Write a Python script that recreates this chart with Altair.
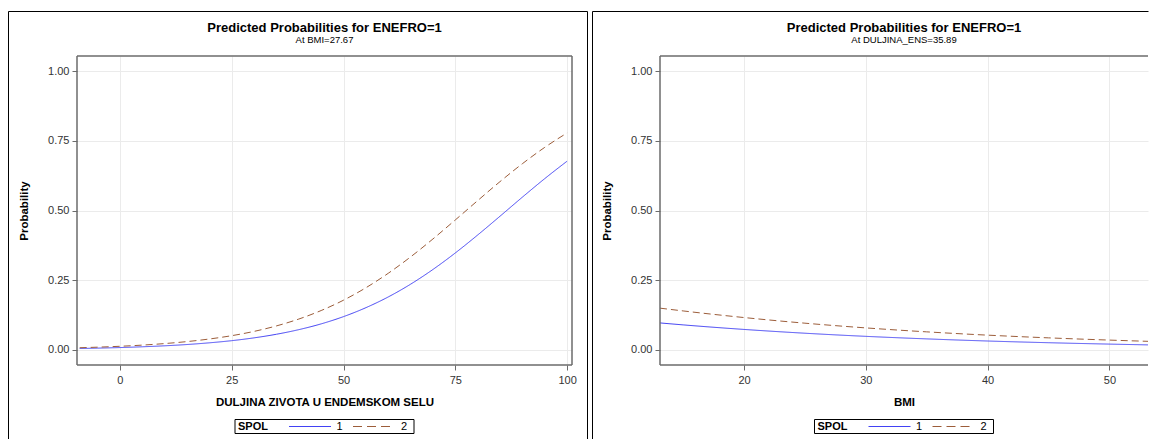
import altair as alt
import pandas as pd

# ---------------- data ----------------
DUR = [-9, -5, 0, 5, 10, 15, 20, 25, 30, 35, 40, 45, 50, 55, 60, 65, 70, 75, 80, 85, 90, 95, 100]
DUR_P1 = [0.0054, 0.0067, 0.0087, 0.0115, 0.0150, 0.0196, 0.0257, 0.0334, 0.0435, 0.0564, 0.0729,
          0.0936, 0.1196, 0.1516, 0.1901, 0.2358, 0.2886, 0.3478, 0.4121, 0.4795, 0.5478, 0.6142, 0.6768]
DUR_P2 = [0.0081, 0.0101, 0.0133, 0.0175, 0.0230, 0.0301, 0.0394, 0.0513, 0.0667, 0.0863, 0.1109,
          0.1414, 0.1785, 0.2230, 0.2749, 0.3336, 0.3980, 0.4661, 0.5354, 0.6035, 0.6677, 0.7263, 0.7780]

BMI = [13.1, 15, 20, 25, 30, 35, 40, 45, 50, 53.2]
BMI_P1 = [0.0970, 0.0900, 0.0737, 0.0601, 0.0489, 0.0398, 0.0322, 0.0261, 0.0211, 0.0183]
BMI_P2 = [0.1500, 0.1400, 0.1163, 0.0961, 0.0792, 0.0650, 0.0532, 0.0435, 0.0355, 0.0310]

GROUPS = ["1", "2"]
Y_TICKS = [0, 0.25, 0.5, 0.75, 1.0]
DUR_TICKS = [0, 25, 50, 75, 100]
BMI_TICKS = [20, 30, 40, 50]

TITLE = "Predicted Probabilities for ENEFRO=1"
SUB_LEFT = "At BMI=27.67"
SUB_RIGHT = "At DULJINA_ENS=35.89"
XT_LEFT = "DULJINA ZIVOTA U ENDEMSKOM SELU"
XT_RIGHT = "BMI"

# ---------------- style ----------------
FONT = "Liberation Sans"
BLUE = "#4242f4"
BROWN = "#9c5d3a"
FRAME = "#6b6b6b"
GRID = "#ebebeb"


def long_df(xs, p1, p2):
    rows = []
    for x, a in zip(xs, p1):
        rows.append({"x": x, "p": a, "SPOL": GROUPS[0]})
    for x, b in zip(xs, p2):
        rows.append({"x": x, "p": b, "SPOL": GROUPS[1]})
    return pd.DataFrame(rows)


ONE = pd.DataFrame({"k": [0]})


def txt(text, x, y, size, weight="normal", align="center"):
    return alt.Chart(pd.DataFrame({"t": [text]})).mark_text(
        font=FONT, fontSize=size, fontWeight=weight, align=align, baseline="middle", color="black"
    ).encode(text="t:N", x=alt.value(x), y=alt.value(y))


def hrule(x1, x2, y, color, dash=None, width=1.0):
    kw = dict(color=color, strokeWidth=width)
    if dash:
        kw["strokeDash"] = dash
    return alt.Chart(ONE).mark_rule(**kw).encode(x=alt.value(x1), x2=alt.value(x2), y=alt.value(y))


def vrule(x, y1, y2, color="black", width=1.0):
    return alt.Chart(ONE).mark_rule(color=color, strokeWidth=width).encode(
        x=alt.value(x), y=alt.value(y1), y2=alt.value(y2))


def box(x1, x2, y1, y2, width=1.0):
    return alt.Chart(ONE).mark_rect(fill="white", fillOpacity=0, stroke="black", strokeWidth=width).encode(
        x=alt.value(x1), x2=alt.value(x2), y=alt.value(y1), y2=alt.value(y2))


def panel(df, w, h, xdom, xticks, xtitle, subtitle, left_off, full):
    cx = w / 2
    lines = alt.Chart(df).mark_line(strokeWidth=1, clip=True, interpolate="monotone").encode(
        x=alt.X("x:Q", scale=alt.Scale(domain=xdom, nice=False, zero=False),
                axis=alt.Axis(values=xticks, title=xtitle, format="d", labelPadding=4,
                              titlePadding=11)),
        y=alt.Y("p:Q", scale=alt.Scale(domain=[-0.0538, 1.0538], nice=False, zero=False),
                axis=alt.Axis(values=Y_TICKS, format=".2f", title="Probability", labelPadding=3,
                              titlePadding=18)),
        color=alt.Color("SPOL:N", scale=alt.Scale(domain=GROUPS, range=[BLUE, BROWN]), legend=None),
        strokeDash=alt.StrokeDash("SPOL:N", scale=alt.Scale(domain=GROUPS, range=[[1, 0], [7, 4]]),
                                  legend=None),
    )
    top_right = w + 15.5 if full else w + 0.5
    layers = [
        lines,
        # plot frame (open on the right when the panel is cut by the page edge)
        hrule(0, w, 0, FRAME, width=1.5),
        hrule(0, w, h, FRAME, width=1.5),
        vrule(0, 0, h, FRAME, width=1.5),
        # outer panel border
        hrule(left_off, top_right, -44.5, "black"),
        vrule(left_off, -44.5, 400),
    ]
    if full:
        layers.append(vrule(w, 0, h, FRAME, width=1.5))
        layers.append(vrule(w + 15.5, -44.5, 400))
    layers += [
        txt(TITLE, cx, -28, 13, "bold"),
        txt(subtitle, cx, -16, 9.5),
        box(cx - 89.5, cx + 89.5, 363.5, 377.5),
        txt("SPOL", cx - 86.5, 370.5, 11, "bold", "left"),
        hrule(cx - 35.5, cx + 6.5, 370.5, BLUE),
        txt(GROUPS[0], cx + 15, 370.5, 11),
        hrule(cx + 28.5, cx + 67.5, 370.5, BROWN, [9, 5]),
        txt(GROUPS[1], cx + 79.5, 370.5, 11),
    ]
    return alt.layer(*layers).properties(width=w, height=h)


left = panel(long_df(DUR, DUR_P1, DUR_P2), 495, 309, [-9.6, 101.1], DUR_TICKS, XT_LEFT, SUB_LEFT,
             -68.5, True)
right = panel(long_df(BMI, BMI_P1, BMI_P2), 488, 309, [13.1, 53.17], BMI_TICKS, XT_RIGHT, SUB_RIGHT,
              -67.5, False)

chart = alt.hconcat(left, right, spacing=4).resolve_scale(
    x="independent", y="independent", color="independent", strokeDash="independent"
).properties(
    padding={"left": 0, "top": 3, "right": 0, "bottom": 0}, background="white"
).configure_view(
    stroke="transparent", strokeWidth=0
).configure_axis(
    labelFont=FONT, labelFontSize=11, labelColor="#333333",
    titleFont=FONT, titleFontSize=11.5, titleFontWeight="bold", titleColor="black",
    tickColor=FRAME, tickSize=5, tickWidth=1, domain=False,
    grid=True, gridColor=GRID, gridWidth=1,
)

chart.save("out.html", embed_options={"renderer": "svg", "actions": False})
